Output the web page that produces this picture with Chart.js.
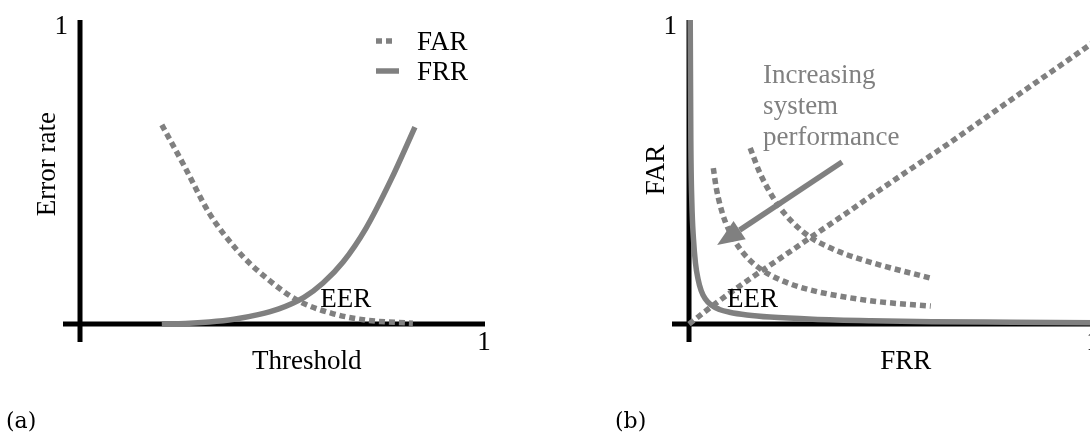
<!DOCTYPE html>
<html>
<head>
<meta charset="utf-8">
<title>FAR / FRR</title>
<script src="https://cdn.jsdelivr.net/npm/chart.js@4.4.0/dist/chart.umd.min.js"></script>
<style>
  html, body { margin: 0; padding: 0; background: #fff; }
  body { width: 1090px; height: 439px; overflow: hidden; position: relative; }
  canvas { position: absolute; top: 0; }
  #chartA { left: 0; }
  #chartB { left: 609px; }
</style>
</head>
<body>
<canvas id="chartA" width="545" height="439"></canvas>
<canvas id="chartB" width="545" height="439"></canvas>
<script>
// (a) error rate against threshold
var farThreshold = [0.202, 0.259, 0.319, 0.388, 0.457, 0.536, 0.62, 0.706, 0.822];
var farRate      = [0.655, 0.516, 0.365, 0.243, 0.155, 0.079, 0.036, 0.013, 0.003];
var frrThreshold = [0.202, 0.26, 0.319, 0.38, 0.44, 0.491, 0.553, 0.6, 0.65, 0.706, 0.768, 0.827];
var frrRate      = [0.0, 0.002, 0.007, 0.016, 0.031, 0.05, 0.088, 0.135, 0.205, 0.315, 0.475, 0.648];

// (b) FAR against FRR
var detFrr = [0.003, 0.0045, 0.007, 0.011, 0.016, 0.022, 0.03, 0.04, 0.055, 0.075, 0.1, 0.143, 0.2, 0.306, 0.45, 0.6, 0.8, 1.0];
var detFar = [1.0, 0.6, 0.4, 0.28, 0.2, 0.15, 0.11, 0.083, 0.062, 0.048, 0.039, 0.03, 0.023, 0.016, 0.011, 0.008, 0.006, 0.004];
var eerFrr = [0, 0.059, 0.143, 0.225, 0.306, 0.39, 0.472, 0.553, 0.637, 0.719, 0.8, 0.884, 0.965, 1.0];
var eerFar = [0, 0.061, 0.142, 0.216, 0.29, 0.366, 0.442, 0.515, 0.59, 0.666, 0.742, 0.82, 0.895, 0.928];
var innerFrr = [0.06, 0.067, 0.077, 0.09, 0.108, 0.13, 0.16, 0.2, 0.25, 0.306, 0.39, 0.472, 0.597];
var innerFar = [0.513, 0.45, 0.39, 0.335, 0.285, 0.24, 0.198, 0.162, 0.132, 0.11, 0.088, 0.073, 0.059];
var outerFrr = [0.151, 0.175, 0.2, 0.225, 0.257, 0.3, 0.35, 0.39, 0.472, 0.597];
var outerFar = [0.579, 0.497, 0.433, 0.382, 0.333, 0.285, 0.25, 0.228, 0.194, 0.151];
var arrowFrr = [0.378, 0.125];
var arrowFar = [0.533, 0.309];

var tickValues = [1];
var tickLabels = ['1'];
var legendLabels = ['FAR', 'FRR'];

var GREY = '#808080';
var FONT = "27px 'Liberation Serif', 'Times New Roman', serif";

function pts(xs, ys) {
  return xs.map(function (x, i) { return { x: x, y: ys[i] }; });
}

function curve(label, xs, ys, dotted) {
  return {
    label: label,
    data: pts(xs, ys),
    showLine: true,
    borderColor: GREY,
    borderWidth: 5.5,
    borderDash: dotted ? [6, 4] : [],
    borderCapStyle: 'butt',
    pointRadius: 0,
    cubicInterpolationMode: 'monotone',
    clip: false
  };
}

// black axes through the origin, under the curves
var axesPlugin = {
  id: 'axes',
  beforeDatasetsDraw: function (chart) {
    var ctx = chart.ctx, a = chart.chartArea;
    var x0 = chart.scales.x.getPixelForValue(0), y0 = chart.scales.y.getPixelForValue(0);
    ctx.save();
    ctx.strokeStyle = '#000';
    ctx.lineWidth = 5;
    ctx.lineCap = 'butt';
    ctx.beginPath();
    ctx.moveTo(a.left, y0); ctx.lineTo(a.right, y0);
    ctx.moveTo(x0, a.top); ctx.lineTo(x0, a.bottom);
    ctx.stroke();
    ctx.restore();
  }
};

// arrow head at the end of the "arrow" dataset
var arrowPlugin = {
  id: 'arrowHead',
  afterDatasetsDraw: function (chart) {
    chart.data.datasets.forEach(function (ds, i) {
      if (ds.label !== 'arrow') return;
      var p = chart.getDatasetMeta(i).data;
      var a = p[p.length - 2], b = p[p.length - 1];
      var ang = Math.atan2(b.y - a.y, b.x - a.x);
      var len = 27, half = 11;
      var ctx = chart.ctx;
      ctx.save();
      ctx.translate(b.x, b.y);
      ctx.rotate(ang);
      ctx.fillStyle = GREY;
      ctx.beginPath();
      ctx.moveTo(len, 0);
      ctx.lineTo(0, -half);
      ctx.lineTo(0, half);
      ctx.closePath();
      ctx.fill();
      ctx.restore();
    });
  }
};

var textPlugin = {
  id: 'texts',
  afterDraw: function (chart) {
    var o = chart.options.plugins.texts;
    var ctx = chart.ctx, xs = chart.scales.x, ys = chart.scales.y;
    var x0 = xs.getPixelForValue(0), y0 = ys.getPixelForValue(0);
    ctx.save();
    ctx.font = FONT;
    ctx.fillStyle = '#000';
    ctx.textBaseline = 'alphabetic';

    // tick labels
    tickValues.forEach(function (v, i) {
      ctx.textAlign = 'right';
      ctx.fillText(tickLabels[i], x0 - 12, ys.getPixelForValue(v) + 14);
      ctx.textAlign = 'center';
      ctx.fillText(tickLabels[i], xs.getPixelForValue(v) - 1, y0 + 26);
    });

    // axis titles
    ctx.textAlign = 'center';
    ctx.fillText(o.xTitle, xs.getPixelForValue(o.xTitleAt), y0 + 45);
    ctx.save();
    ctx.translate(x0 - 25, ys.getPixelForValue(o.yTitleAt));
    ctx.rotate(-Math.PI / 2);
    ctx.fillText(o.yTitle, 0, 0);
    ctx.restore();

    // notes placed in data units
    ctx.textAlign = 'left';
    o.notes.forEach(function (n) {
      ctx.fillStyle = n.color || '#000';
      n.lines.forEach(function (t, k) {
        ctx.fillText(t, xs.getPixelForValue(n.x), ys.getPixelForValue(n.y) + k * 31);
      });
    });

    // legend
    if (o.legend) {
      chart.data.datasets.forEach(function (ds) {
        var k = legendLabels.indexOf(ds.label);
        if (k < 0) return;
        var ly = 41 + k * 30;
        ctx.strokeStyle = ds.borderColor;
        ctx.lineWidth = 5.5;
        ctx.setLineDash(ds.borderDash);
        ctx.beginPath();
        ctx.moveTo(376, ly); ctx.lineTo(ds.borderDash.length ? 393 : 399, ly);
        ctx.stroke();
        ctx.setLineDash([]);
        ctx.fillStyle = '#000';
        ctx.fillText(ds.label, 417, ly + 9);
      });
    }

    // panel tag
    ctx.font = "22px 'DejaVu Serif', serif";
    ctx.fillStyle = '#000';
    ctx.fillText(o.panel, 6, 428);
    ctx.restore();
  }
};

function makeChart(id, datasets, texts) {
  return new Chart(document.getElementById(id), {
    type: 'scatter',
    data: { datasets: datasets },
    options: {
      responsive: false,
      animation: false,
      events: [],
      layout: { autoPadding: false, padding: { left: 63, right: 60, top: 20, bottom: 97 } },
      scales: {
        x: { type: 'linear', min: -0.042, max: 1, display: false },
        y: { type: 'linear', min: -0.059, max: 1, display: false }
      },
      plugins: {
        legend: { display: false },
        tooltip: { enabled: false },
        texts: texts
      }
    },
    plugins: [axesPlugin, arrowPlugin, textPlugin]
  });
}

makeChart('chartA', [
  curve('FAR', farThreshold, farRate, true),
  curve('FRR', frrThreshold, frrRate, false)
], {
  xTitle: 'Threshold', xTitleAt: 0.56,
  yTitle: 'Error rate', yTitleAt: 0.526,
  legend: true,
  panel: '(a)',
  notes: [{ lines: ['EER'], x: 0.593, y: 0.056 }]
});

makeChart('chartB', [
  curve('outer', outerFrr, outerFar, true),
  curve('inner', innerFrr, innerFar, true),
  curve('eer', eerFrr, eerFar, true),
  curve('det', detFrr, detFar, false),
  curve('arrow', arrowFrr, arrowFar, false)
], {
  xTitle: 'FRR', xTitleAt: 0.535,
  yTitle: 'FAR', yTitleAt: 0.507,
  legend: false,
  panel: '(b)',
  notes: [
    { lines: ['EER'], x: 0.094, y: 0.056 },
    { lines: ['Increasing', 'system', 'performance'], x: 0.183, y: 0.793, color: GREY }
  ]
});
</script>
</body>
</html>
